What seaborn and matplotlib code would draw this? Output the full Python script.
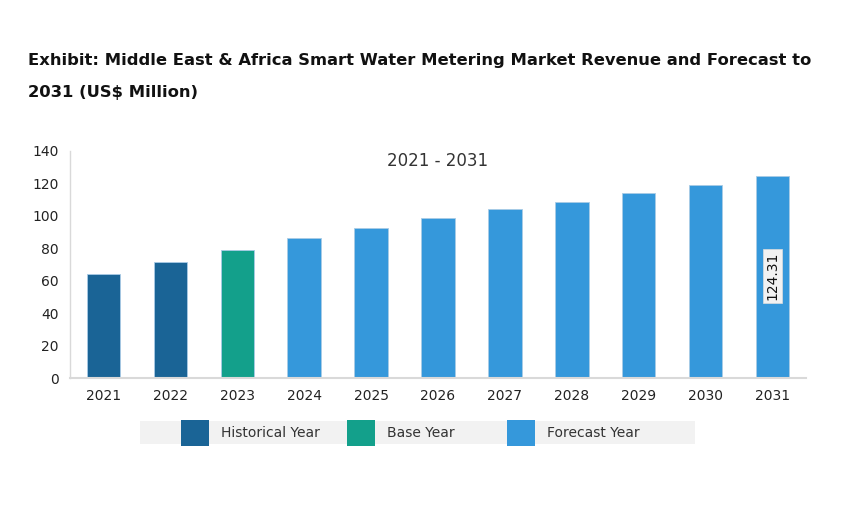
import matplotlib
matplotlib.use("Agg")
import matplotlib.pyplot as plt
import seaborn as sns
import pandas as pd
from matplotlib.patches import Rectangle

years = ["2021", "2022", "2023", "2024", "2025", "2026", "2027", "2028", "2029", "2030", "2031"]
revenue = [64.1, 71.7, 79.0, 86.1, 92.4, 98.5, 104.0, 108.7, 113.8, 119.0, 124.31]
period = ["Historical Year", "Historical Year", "Base Year"] + ["Forecast Year"] * 8
palette = {"Historical Year": "#1a6496", "Base Year": "#13a08b", "Forecast Year": "#3598db"}
yticks = [0, 20, 40, 60, 80, 100, 120, 140]

df = pd.DataFrame({"year": years, "revenue": revenue, "period": period})

sns.set_style("white")
plt.rcParams["font.family"] = ["DejaVu Sans"]

fig = plt.figure(figsize=(8.66, 5.2), dpi=100)
ax = fig.add_axes([70 / 866, 1 - 378 / 520, 736 / 866, 227 / 520])

sns.barplot(data=df, x="year", y="revenue", hue="period", palette=palette,
            dodge=False, width=0.5, legend=False, ax=ax, saturation=1,
            edgecolor="#a9cbe6", linewidth=0.6)

ax.set_ylim(0, 140)
ax.set_yticks(yticks)
ax.set_xlim(-0.5, len(years) - 0.5)
ax.set_xlabel("")
ax.set_ylabel("")
for s in ["top", "right"]:
    ax.spines[s].set_visible(False)
ax.spines["left"].set_color("#d9d9d9")
ax.spines["bottom"].set_color("#d9d9d9")
ax.spines["left"].set_linewidth(1)
ax.spines["bottom"].set_linewidth(1.5)
ax.tick_params(axis="y", length=4, color="#d9d9d9", labelsize=10, labelcolor="#222222", pad=4)
ax.set_xticks([i - 0.5 for i in range(len(years) + 1)], minor=True)
ax.tick_params(axis="x", which="minor", length=5, color="#d9d9d9", width=1)
ax.tick_params(axis="x", which="major", length=0, labelsize=10, labelcolor="#222222", pad=8)

ax.text(0.5, 0.955, "2021 - 2031", transform=ax.transAxes, ha="center", va="center",
        fontsize=12, color="#333333")

last = len(years) - 1
ax.text(last, 63, f"{revenue[-1]:.2f}", rotation=90, ha="center", va="center",
        fontsize=10, color="#111111",
        bbox=dict(boxstyle="square,pad=0.2", facecolor="#f2f2f2", edgecolor="#dddddd", linewidth=0.5))

fig.text(28 / 866, 1 - 61 / 520, "Exhibit: Middle East & Africa Smart Water Metering Market Revenue and Forecast to",
         fontsize=11.8, fontweight="bold", va="center", ha="left", color="#111111")
fig.text(28 / 866, 1 - 92 / 520, "2031 (US$ Million)",
         fontsize=11.8, fontweight="bold", va="center", ha="left", color="#111111")

# legend band
W, H = 866, 520
fig.patches.append(Rectangle((140 / W, 1 - 444 / H), 555 / W, 23 / H, transform=fig.transFigure,
                             facecolor="#f2f2f2", edgecolor="none", zorder=0))
legend_x = {"Historical Year": 181, "Base Year": 347, "Forecast Year": 507}
for name, px in legend_x.items():
    fig.patches.append(Rectangle((px / W, 1 - 446 / H), 28 / W, 26 / H, transform=fig.transFigure,
                                 facecolor=palette[name], edgecolor="none", zorder=1))
    fig.text((px + 40) / W, 1 - 433 / H, name, fontsize=10, color="#333333", va="center", ha="left")

fig.savefig("out.png", dpi=100)
